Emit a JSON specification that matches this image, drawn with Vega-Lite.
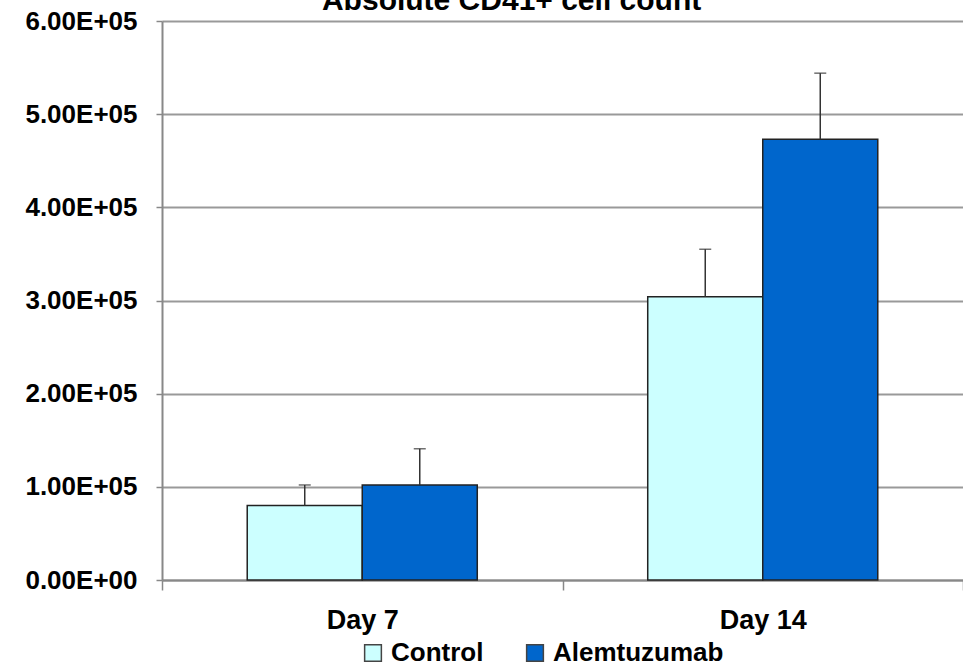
{
  "$schema": "https://vega.github.io/schema/vega-lite/v6.json",
  "autosize": "none",
  "width": 801,
  "height": 559,
  "padding": {"left": 162, "top": 21, "right": 0, "bottom": 85},
  "background": "white",
  "title": {
    "text": "Absolute CD41+ cell count",
    "anchor": "start",
    "dx": 297,
    "offset": 0,
    "dy": 32,
    "baseline": "alphabetic",
    "font": "Liberation Sans",
    "fontSize": 30,
    "fontWeight": "bold",
    "color": "black"
  },
  "data": {
    "values": [
      {"day": "Day 7", "group": "Control", "value": 80000, "upper": 102000},
      {"day": "Day 7", "group": "Alemtuzumab", "value": 102000, "upper": 141000},
      {"day": "Day 14", "group": "Control", "value": 304000, "upper": 355000},
      {"day": "Day 14", "group": "Alemtuzumab", "value": 473000, "upper": 544000}
    ]
  },
  "encoding": {
    "x": {
      "field": "day",
      "type": "nominal",
      "sort": ["Day 7", "Day 14"],
      "scale": {"paddingInner": 0, "paddingOuter": 0},
      "axis": {
        "title": null,
        "labelAngle": 0,
        "labelFont": "Liberation Sans",
        "labelFontSize": 27,
        "labelFontWeight": "bold",
        "labelColor": "black",
        "labelPadding": 17,
        "tickBand": "extent",
        "tickSize": 10,
        "tickColor": "#888888",
        "tickWidth": 1.5,
        "domainColor": "#888888",
        "domainWidth": 2,
        "grid": false
      }
    },
    "xOffset": {
      "field": "group",
      "type": "nominal",
      "sort": ["Control", "Alemtuzumab"],
      "scale": {"paddingInner": 0, "paddingOuter": 0.741}
    }
  },
  "layer": [
    {
      "mark": {"type": "bar", "stroke": "#222222", "strokeWidth": 1.5},
      "encoding": {
        "y": {
          "field": "value",
          "type": "quantitative",
          "scale": {"domain": [0, 600000], "nice": false},
          "axis": {
            "title": null,
            "values": [0, 100000, 200000, 300000, 400000, 500000, 600000],
            "labelExpr": "datum.value == 0 ? '0.00E+00' : format(datum.value / 100000, '.2f') + 'E+05'",
            "labelFont": "Liberation Sans",
            "labelFontSize": 26,
            "labelFontWeight": "bold",
            "labelColor": "black",
            "labelPadding": 19,
            "tickSize": 6,
            "tickColor": "#888888",
            "tickWidth": 1.5,
            "domainColor": "#888888",
            "domainWidth": 2,
            "grid": true,
            "gridColor": "#999999",
            "gridWidth": 2
          }
        },
        "color": {
          "field": "group",
          "type": "nominal",
          "sort": ["Control", "Alemtuzumab"],
          "scale": {"domain": ["Control", "Alemtuzumab"], "range": ["#CCFFFF", "#0066CC"]},
          "legend": {
            "title": null,
            "orient": "none",
            "legendX": 198,
            "legendY": 619,
            "direction": "horizontal",
            "columns": 2,
            "columnPadding": 38,
            "symbolType": "square",
            "symbolSize": 280,
            "symbolStrokeColor": "#444444",
            "symbolStrokeWidth": 1.5,
            "symbolOpacity": 1,
            "labelFont": "Liberation Sans",
            "labelFontSize": 26,
            "labelFontWeight": "bold",
            "labelColor": "black",
            "labelOffset": 5,
            "labelLimit": 400
          }
        }
      }
    },
    {
      "mark": {"type": "rule", "color": "#333333", "strokeWidth": 1.5},
      "encoding": {
        "y": {"field": "value", "type": "quantitative"},
        "y2": {"field": "upper"}
      }
    },
    {
      "mark": {"type": "tick", "color": "#333333", "thickness": 1.5, "size": 12, "orient": "horizontal"},
      "encoding": {
        "y": {"field": "upper", "type": "quantitative"}
      }
    }
  ],
  "config": {
    "view": {"stroke": null}
  }
}
